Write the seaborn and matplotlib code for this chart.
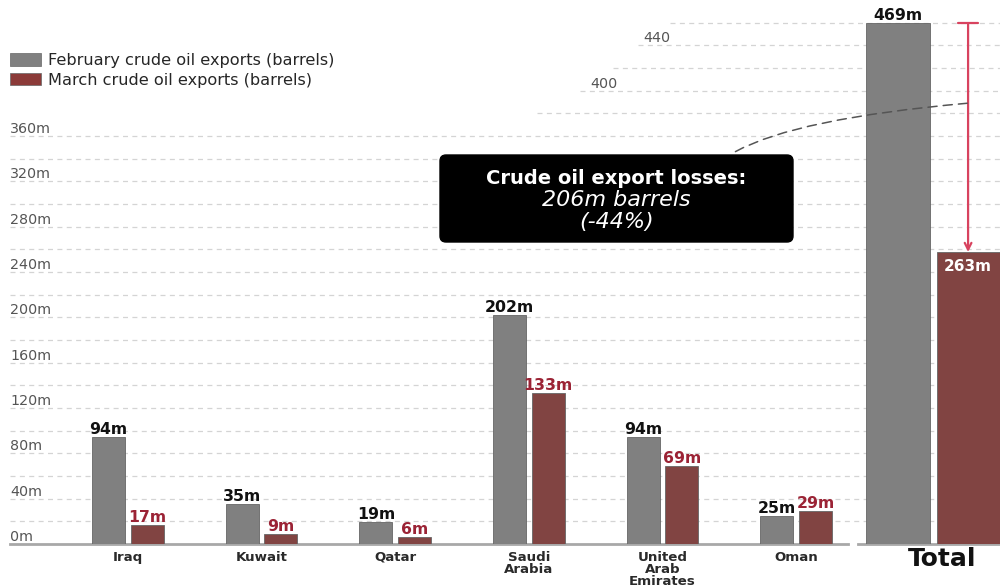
import matplotlib
matplotlib.use("Agg")
import matplotlib.pyplot as plt
import matplotlib.transforms as mtransforms
from matplotlib.patches import Patch, FancyBboxPatch, FancyArrowPatch
import seaborn as sns
import pandas as pd

# ---- data ----
countries = ["Iraq", "Kuwait", "Qatar", "Saudi Arabia", "United Arab Emirates", "Oman"]
country_labels = ["Iraq", "Kuwait", "Qatar", "Saudi\nArabia", "United\nArab\nEmirates", "Oman"]
feb_exports = [94, 35, 19, 202, 94, 25]
mar_exports = [17, 9, 6, 133, 69, 29]
total_label = "Total"
total_feb = 469
total_mar = 263
months = ["February", "March"]
legend_labels = ["February crude oil exports (barrels)", "March crude oil exports (barrels)"]
ytick_values = [0, 40, 80, 120, 160, 200, 240, 280, 320, 360]
ytick_labels = [f"{v}m" for v in ytick_values]
upper_tick_values = [400, 440]
upper_tick_labels = ["400", "440"]
loss_title = "Crude oil export losses:"
loss_value = "206m barrels"
loss_pct = "(-44%)"

GRAY = "#808080"
RED = "#8b3a38"
RED_TXT = "#9b2335"
ARROW = "#d8435f"
GRID = "#d4d4d4"

sns.set_theme(style="white")
plt.rcParams["font.family"] = ["DejaVu Sans"]

fig = plt.figure(figsize=(10, 5.88), dpi=100)
W, H = 1000, 588
base_px = 544
ax = fig.add_axes([10 / W, (H - base_px) / H, 838 / W, base_px / H])
axt = fig.add_axes([858 / W, (H - base_px) / H, 142 / W, base_px / H])
axt.set_facecolor("none")
ax.set_facecolor("none")

df = pd.DataFrame({
    "country": countries * 2,
    "value": feb_exports + mar_exports,
    "month": [months[0]] * len(countries) + [months[1]] * len(countries),
})
dft = pd.DataFrame({"country": [total_label] * 2, "value": [total_feb, total_mar], "month": months})

sns.barplot(data=df, x="country", y="value", hue="month", hue_order=months,
            palette=[GRAY, RED], width=0.58, gap=0.15, ax=ax, legend=False,
            edgecolor="#666666", linewidth=0.6, zorder=3)
sns.barplot(data=dft, x="country", y="value", hue="month", hue_order=months,
            palette=[GRAY, RED], width=0.9, gap=0.1, ax=axt, legend=False,
            edgecolor="#666666", linewidth=0.6, zorder=3)

ax.set_xlim(-0.883, 5.389)
ax.set_ylim(0, 480)
axt.set_xlim(-0.482, 0.43)
axt.set_ylim(0, 490)

# gridlines
px_to_ax = lambda px: (px - 10) / 838.0
for v in range(20, 361, 20):
    ax.axhline(v, xmin=0, xmax=px_to_ax(1000), color=GRID, lw=0.9, ls=(0, (4, 3.5)),
               clip_on=False, zorder=0)
upper_starts = {380: 537, 400: 580, 420: 613, 440: 638, 460: 670}
for v, sx in upper_starts.items():
    ax.axhline(v, xmin=px_to_ax(sx), xmax=px_to_ax(1000), color=GRID, lw=0.9,
               ls=(0, (4, 3.5)), clip_on=False, zorder=0)

# spines
for a in (ax, axt):
    for s in ("top", "right", "left"):
        a.spines[s].set_visible(False)
    a.spines["bottom"].set_color("#a8a8a8")
    a.spines["bottom"].set_linewidth(2)
    a.set_yticks([])
    a.set_xlabel("")
    a.set_ylabel("")
    a.tick_params(axis="x", length=0)

ax.set_xticks(range(len(countries)))
ax.set_xticklabels(country_labels, fontsize=9.6, fontweight="bold", color="#2a2a2a",
                   linespacing=0.88, va="top")
ax.tick_params(axis="x", pad=5)
axt.set_xticks([0])
axt.set_xticklabels([total_label], fontsize=18, fontweight="bold", color="#111111")
axt.tick_params(axis="x", pad=2)
shift = mtransforms.ScaledTranslation(9 / 100, 0, fig.dpi_scale_trans)
for lab in axt.get_xticklabels():
    lab.set_transform(lab.get_transform() + shift)

# y tick labels inside
trans = mtransforms.blended_transform_factory(ax.transAxes, ax.transData)
for v, lab in zip(ytick_values, ytick_labels):
    ax.text(0.0, v + 2.5, lab, transform=trans, fontsize=10.3, color="#555555",
            ha="left", va="baseline")
for v, lab, sx in zip(upper_tick_values, upper_tick_labels, [590, 643]):
    ax.text(px_to_ax(sx), v + 2.5, lab, transform=trans, fontsize=10.3, color="#555555",
            ha="left", va="baseline")

# value labels
ax.bar_label(ax.containers[0], labels=[f"{v}m" for v in feb_exports], padding=0,
             fontsize=11.3, fontweight="bold", color="#111111")
ax.bar_label(ax.containers[1], labels=[f"{v}m" for v in mar_exports], padding=0,
             fontsize=11.3, fontweight="semibold", color=RED_TXT)
axt.bar_label(axt.containers[0], labels=[f"{total_feb}m"], padding=0,
              fontsize=11.3, fontweight="bold", color="#111111")
axt.bar_label(axt.containers[1], labels=[f"{total_mar}m"], padding=-16,
              fontsize=11, fontweight="bold", color="white")

# arrow showing the drop
red_x = axt.containers[1][0].get_x() + axt.containers[1][0].get_width() / 2
axt.annotate("", xy=(red_x, total_mar), xytext=(red_x, total_feb),
             arrowprops=dict(arrowstyle="]->,widthA=0.6,lengthA=0",
                             color=ARROW, lw=1.6, shrinkA=0, shrinkB=0, mutation_scale=12),
             annotation_clip=False, zorder=5)

# annotation box
bx0, by0, bx1, by1 = 440, 155, 793, 242
box = FancyBboxPatch((bx0 / W, (H - by1) / H), (bx1 - bx0) / W, (by1 - by0) / H,
                     boxstyle="round,pad=0,rounding_size=0.006", mutation_aspect=W / H,
                     transform=fig.transFigure, facecolor="black", edgecolor="black", zorder=6)
fig.patches.append(box)
cx = (bx0 + bx1) / 2 / W
fig.text(cx, (H - 178) / H, loss_title, color="white", fontsize=14, fontweight="bold",
         ha="center", va="center", zorder=7)
fig.text(cx, (H - 200) / H, loss_value, color="white", fontsize=16, fontstyle="italic",
         ha="center", va="center", zorder=7)
fig.text(cx, (H - 222) / H, loss_pct, color="white", fontsize=16, fontstyle="italic",
         ha="center", va="center", zorder=7)

# dashed connector
fig.add_artist(FancyArrowPatch(
    (733, H - 153), (970, H - 103), transform=None,
    arrowstyle="-", connectionstyle="angle3,angleA=30,angleB=5",
    linestyle=(0, (6, 4)), color="#555555", lw=1.1, zorder=5))

# legend
handles = [Patch(facecolor=GRAY, edgecolor="#666666", lw=0.5),
           Patch(facecolor=RED, edgecolor="#666666", lw=0.5)]
fig.legend(handles, legend_labels, loc="upper left", bbox_to_anchor=(0.01, 1 - 53 / H),
           frameon=False, fontsize=11.6, handlelength=1.9, handleheight=0.8,
           handletextpad=0.45, labelspacing=0.3, borderpad=0, borderaxespad=0)

fig.savefig("out.png", dpi=100)
